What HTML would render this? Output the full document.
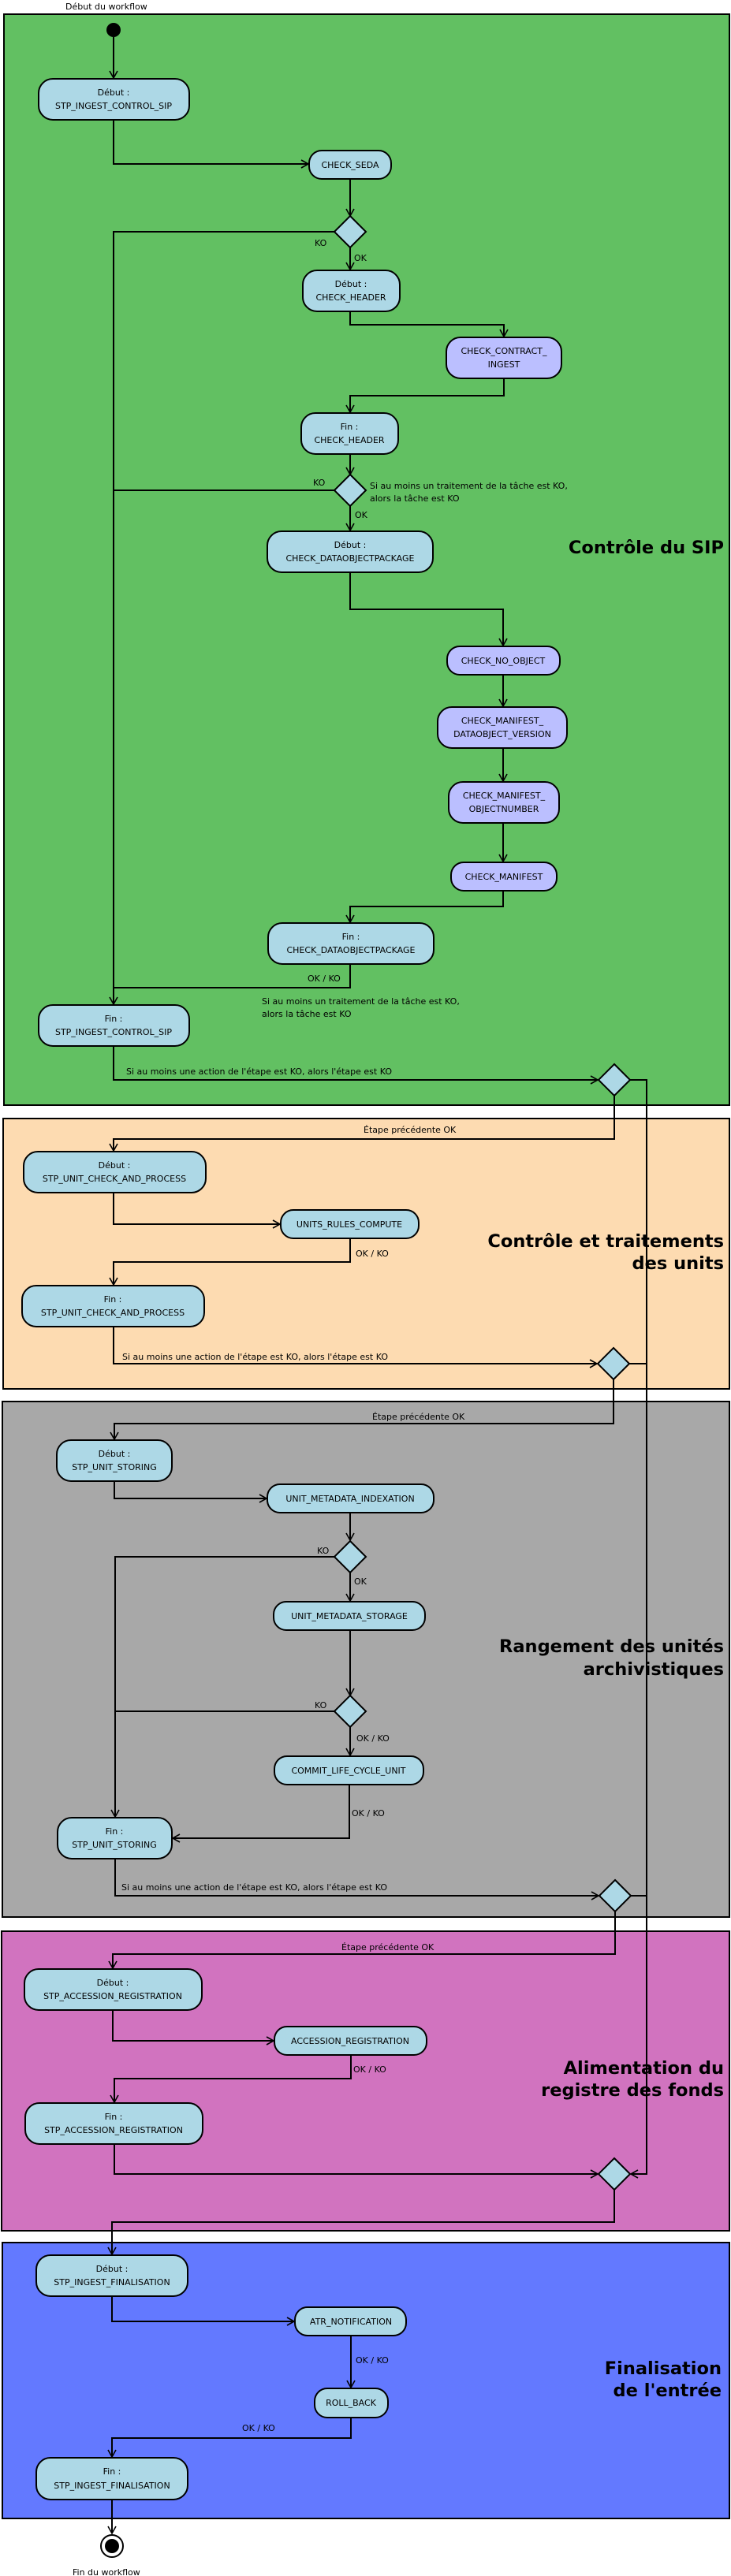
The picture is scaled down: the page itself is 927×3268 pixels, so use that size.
<!DOCTYPE html>
<html><head><meta charset="utf-8"><style>
html,body{margin:0;padding:0;background:#fff;}
svg{display:block;}
text{font-family:"DejaVu Sans","Liberation Sans",sans-serif;font-size:11px;fill:#000;}
.t{font-weight:bold;font-size:22.5px;text-anchor:end;}
.n{text-anchor:middle;}
</style></head><body>
<svg width="927" height="3268" viewBox="0 0 927 3268" xmlns="http://www.w3.org/2000/svg">
<defs>
<marker id="a" markerWidth="12" markerHeight="12" refX="10" refY="6" orient="auto" markerUnits="userSpaceOnUse">
<polyline points="1,1 10,6 1,11" fill="none" stroke="#000" stroke-width="1.6"/>
</marker>
</defs>
<rect x="5" y="18" width="920" height="1384" fill="#62c062" stroke="#000" stroke-width="2"/>
<rect x="4" y="1419" width="921" height="343" fill="#fddbb1" stroke="#000" stroke-width="2"/>
<rect x="3" y="1778" width="922" height="654" fill="#a8a8a8" stroke="#000" stroke-width="2"/>
<rect x="2" y="2450" width="923" height="380" fill="#d173bf" stroke="#000" stroke-width="2"/>
<rect x="3" y="2845" width="922" height="350" fill="#6379ff" stroke="#000" stroke-width="2"/>

<text class="t" x="918" y="702">Contrôle du SIP</text>
<text class="t" x="918" y="1582">Contrôle et traitements</text>
<text class="t" x="918" y="1610">des units</text>
<text class="t" x="918" y="2096">Rangement des unités</text>
<text class="t" x="918" y="2125">archivistiques</text>
<text class="t" x="918" y="2631">Alimentation du</text>
<text class="t" x="918" y="2659">registre des fonds</text>
<text class="t" x="915" y="3012">Finalisation</text>
<text class="t" x="915" y="3040">de l'entrée</text>

<g fill="none" stroke="#000" stroke-width="2">
<path d="M144 47V99" marker-end="url(#a)"/>
<path d="M144 152V208H391" marker-end="url(#a)"/>
<path d="M444 227V274" marker-end="url(#a)"/>
<path d="M424 294H144V1274" marker-end="url(#a)"/>
<path d="M444 314V342" marker-end="url(#a)"/>
<path d="M444 395V412H639V427" marker-end="url(#a)"/>
<path d="M639 480V502H444V523" marker-end="url(#a)"/>
<path d="M444 576V602" marker-end="url(#a)"/>
<path d="M424 622H144"/>
<path d="M444 642V673" marker-end="url(#a)"/>
<path d="M444 726V773H638V819" marker-end="url(#a)"/>
<path d="M638 856V896" marker-end="url(#a)"/>
<path d="M638 949V991" marker-end="url(#a)"/>
<path d="M638 1044V1093" marker-end="url(#a)"/>
<path d="M638 1130V1150H444V1170" marker-end="url(#a)"/>
<path d="M444 1223V1253H144"/>
<path d="M144 1327V1370H758" marker-end="url(#a)"/>
<path d="M779 1390V1445H144V1460" marker-end="url(#a)"/>
<path d="M144 1513V1553H355" marker-end="url(#a)"/>
<path d="M444 1571V1601H144V1630" marker-end="url(#a)"/>
<path d="M144 1683V1730H757" marker-end="url(#a)"/>
<path d="M798 1730H820"/>
<path d="M778 1750V1806H145V1826" marker-end="url(#a)"/>
<path d="M145 1879V1901H338" marker-end="url(#a)"/>
<path d="M444 1919V1954" marker-end="url(#a)"/>
<path d="M424 1975H146V2305" marker-end="url(#a)"/>
<path d="M444 1995V2031" marker-end="url(#a)"/>
<path d="M444 2068V2151" marker-end="url(#a)"/>
<path d="M424 2171H146"/>
<path d="M444 2191V2227" marker-end="url(#a)"/>
<path d="M443 2264V2332H219" marker-end="url(#a)"/>
<path d="M146 2358V2405H759" marker-end="url(#a)"/>
<path d="M800 2405H820"/>
<path d="M780 2425V2479H143V2497" marker-end="url(#a)"/>
<path d="M143 2550V2589H347" marker-end="url(#a)"/>
<path d="M445 2607V2637H145V2667" marker-end="url(#a)"/>
<path d="M145 2720V2758H758" marker-end="url(#a)"/>
<path d="M799 1370H820V2758H800" marker-end="url(#a)"/>
<path d="M779 2778V2819H142V2860" marker-end="url(#a)"/>
<path d="M142 2913V2945H373" marker-end="url(#a)"/>
<path d="M445 2963V3029" marker-end="url(#a)"/>
<path d="M445 3067V3093H142V3117" marker-end="url(#a)"/>
<path d="M142 3171V3214" marker-end="url(#a)"/>
</g>

<circle cx="144" cy="38" r="9" fill="#000"/>
<circle cx="142" cy="3230" r="14" fill="#fff" stroke="#000" stroke-width="2"/>
<circle cx="142" cy="3230" r="9" fill="#000"/>

<g fill="#add8e6" stroke="#000" stroke-width="2">
<polygon points="444,274 464,294 444,314 424,294"/>
<polygon points="444,602 464,622 444,642 424,622"/>
<polygon points="779,1350 799,1370 779,1390 759,1370"/>
<polygon points="778,1710 798,1730 778,1750 758,1730"/>
<polygon points="444,1955 464,1975 444,1995 424,1975"/>
<polygon points="444,2151 464,2171 444,2191 424,2171"/>
<polygon points="780,2385 800,2405 780,2425 760,2405"/>
<polygon points="779,2738 799,2758 779,2778 759,2758"/>
</g>

<g stroke="#000" stroke-width="2">
<rect x="49" y="100" width="191" height="52" rx="18" fill="#add8e6"/>
<rect x="392" y="191" width="104" height="36" rx="16" fill="#add8e6"/>
<rect x="384" y="343" width="123" height="52" rx="18" fill="#add8e6"/>
<rect x="566" y="428" width="146" height="52" rx="18" fill="#bbbfff"/>
<rect x="382" y="524" width="123" height="52" rx="18" fill="#add8e6"/>
<rect x="339" y="674" width="210" height="52" rx="18" fill="#add8e6"/>
<rect x="567" y="820" width="143" height="36" rx="16" fill="#bbbfff"/>
<rect x="555" y="897" width="164" height="52" rx="18" fill="#bbbfff"/>
<rect x="569" y="992" width="140" height="52" rx="18" fill="#bbbfff"/>
<rect x="572" y="1094" width="134" height="36" rx="16" fill="#bbbfff"/>
<rect x="340" y="1171" width="210" height="52" rx="18" fill="#add8e6"/>
<rect x="49" y="1275" width="191" height="52" rx="18" fill="#add8e6"/>
<rect x="30" y="1461" width="231" height="52" rx="18" fill="#add8e6"/>
<rect x="356" y="1535" width="175" height="36" rx="16" fill="#add8e6"/>
<rect x="28" y="1631" width="231" height="52" rx="18" fill="#add8e6"/>
<rect x="72" y="1827" width="146" height="52" rx="18" fill="#add8e6"/>
<rect x="339" y="1883" width="211" height="36" rx="16" fill="#add8e6"/>
<rect x="347" y="2032" width="192" height="36" rx="16" fill="#add8e6"/>
<rect x="348" y="2228" width="189" height="36" rx="16" fill="#add8e6"/>
<rect x="73" y="2306" width="145" height="52" rx="18" fill="#add8e6"/>
<rect x="31" y="2498" width="225" height="52" rx="18" fill="#add8e6"/>
<rect x="348" y="2571" width="193" height="36" rx="16" fill="#add8e6"/>
<rect x="32" y="2668" width="225" height="52" rx="18" fill="#add8e6"/>
<rect x="46" y="2861" width="192" height="52" rx="18" fill="#add8e6"/>
<rect x="374" y="2927" width="141" height="36" rx="16" fill="#add8e6"/>
<rect x="399" y="3030" width="93" height="37" rx="16" fill="#add8e6"/>
<rect x="46" y="3118" width="192" height="53" rx="18" fill="#add8e6"/>
</g>

<g class="n">
<text class="n" x="144" y="121">Début :</text><text class="n" x="144" y="138">STP_INGEST_CONTROL_SIP</text>
<text class="n" x="444" y="213">CHECK_SEDA</text>
<text class="n" x="445" y="364">Début :</text><text class="n" x="445" y="381">CHECK_HEADER</text>
<text class="n" x="639" y="449">CHECK_CONTRACT_</text><text class="n" x="639" y="466">INGEST</text>
<text class="n" x="443" y="545">Fin :</text><text class="n" x="443" y="562">CHECK_HEADER</text>
<text class="n" x="444" y="695">Début :</text><text class="n" x="444" y="712">CHECK_DATAOBJECTPACKAGE</text>
<text class="n" x="638" y="842">CHECK_NO_OBJECT</text>
<text class="n" x="637" y="918">CHECK_MANIFEST_</text><text class="n" x="637" y="935">DATAOBJECT_VERSION</text>
<text class="n" x="639" y="1013">CHECK_MANIFEST_</text><text class="n" x="639" y="1030">OBJECTNUMBER</text>
<text class="n" x="639" y="1116">CHECK_MANIFEST</text>
<text class="n" x="445" y="1192">Fin :</text><text class="n" x="445" y="1209">CHECK_DATAOBJECTPACKAGE</text>
<text class="n" x="144" y="1296">Fin :</text><text class="n" x="144" y="1313">STP_INGEST_CONTROL_SIP</text>
<text class="n" x="145" y="1482">Début :</text><text class="n" x="145" y="1499">STP_UNIT_CHECK_AND_PROCESS</text>
<text class="n" x="443" y="1557">UNITS_RULES_COMPUTE</text>
<text class="n" x="143" y="1652">Fin :</text><text class="n" x="143" y="1669">STP_UNIT_CHECK_AND_PROCESS</text>
<text class="n" x="145" y="1848">Début :</text><text class="n" x="145" y="1865">STP_UNIT_STORING</text>
<text class="n" x="444" y="1905">UNIT_METADATA_INDEXATION</text>
<text class="n" x="443" y="2054">UNIT_METADATA_STORAGE</text>
<text class="n" x="442" y="2250">COMMIT_LIFE_CYCLE_UNIT</text>
<text class="n" x="145" y="2327">Fin :</text><text class="n" x="145" y="2344">STP_UNIT_STORING</text>
<text class="n" x="143" y="2519">Début :</text><text class="n" x="143" y="2536">STP_ACCESSION_REGISTRATION</text>
<text class="n" x="444" y="2593">ACCESSION_REGISTRATION</text>
<text class="n" x="144" y="2689">Fin :</text><text class="n" x="144" y="2706">STP_ACCESSION_REGISTRATION</text>
<text class="n" x="142" y="2882">Début :</text><text class="n" x="142" y="2899">STP_INGEST_FINALISATION</text>
<text class="n" x="445" y="2949">ATR_NOTIFICATION</text>
<text class="n" x="445" y="3052">ROLL_BACK</text>
<text class="n" x="142" y="3139">Fin :</text><text class="n" x="142" y="3157">STP_INGEST_FINALISATION</text>
</g>

<text x="83" y="12">Début du workflow</text>
<text x="399" y="312">KO</text>
<text x="449" y="331">OK</text>
<text x="397" y="616">KO</text>
<text x="469" y="620">Si au moins un traitement de la tâche est KO,</text>
<text x="469" y="636">alors la tâche est KO</text>
<text x="450" y="657">OK</text>
<text x="390" y="1245">OK / KO</text>
<text x="332" y="1274">Si au moins un traitement de la tâche est KO,</text>
<text x="332" y="1290">alors la tâche est KO</text>
<text x="160" y="1363">Si au moins une action de l'étape est KO, alors l'étape est KO</text>
<text x="461" y="1437">Étape précédente OK</text>
<text x="451" y="1594">OK / KO</text>
<text x="155" y="1725">Si au moins une action de l'étape est KO, alors l'étape est KO</text>
<text x="472" y="1801">Étape précédente OK</text>
<text x="402" y="1971">KO</text>
<text x="449" y="2010">OK</text>
<text x="399" y="2167">KO</text>
<text x="452" y="2209">OK / KO</text>
<text x="446" y="2304">OK / KO</text>
<text x="154" y="2398">Si au moins une action de l'étape est KO, alors l'étape est KO</text>
<text x="433" y="2474">Étape précédente OK</text>
<text x="448" y="2629">OK / KO</text>
<text x="451" y="2998">OK / KO</text>
<text x="307" y="3084">OK / KO</text>
<text x="92" y="3267">Fin du workflow</text>
</svg>
</body></html>
